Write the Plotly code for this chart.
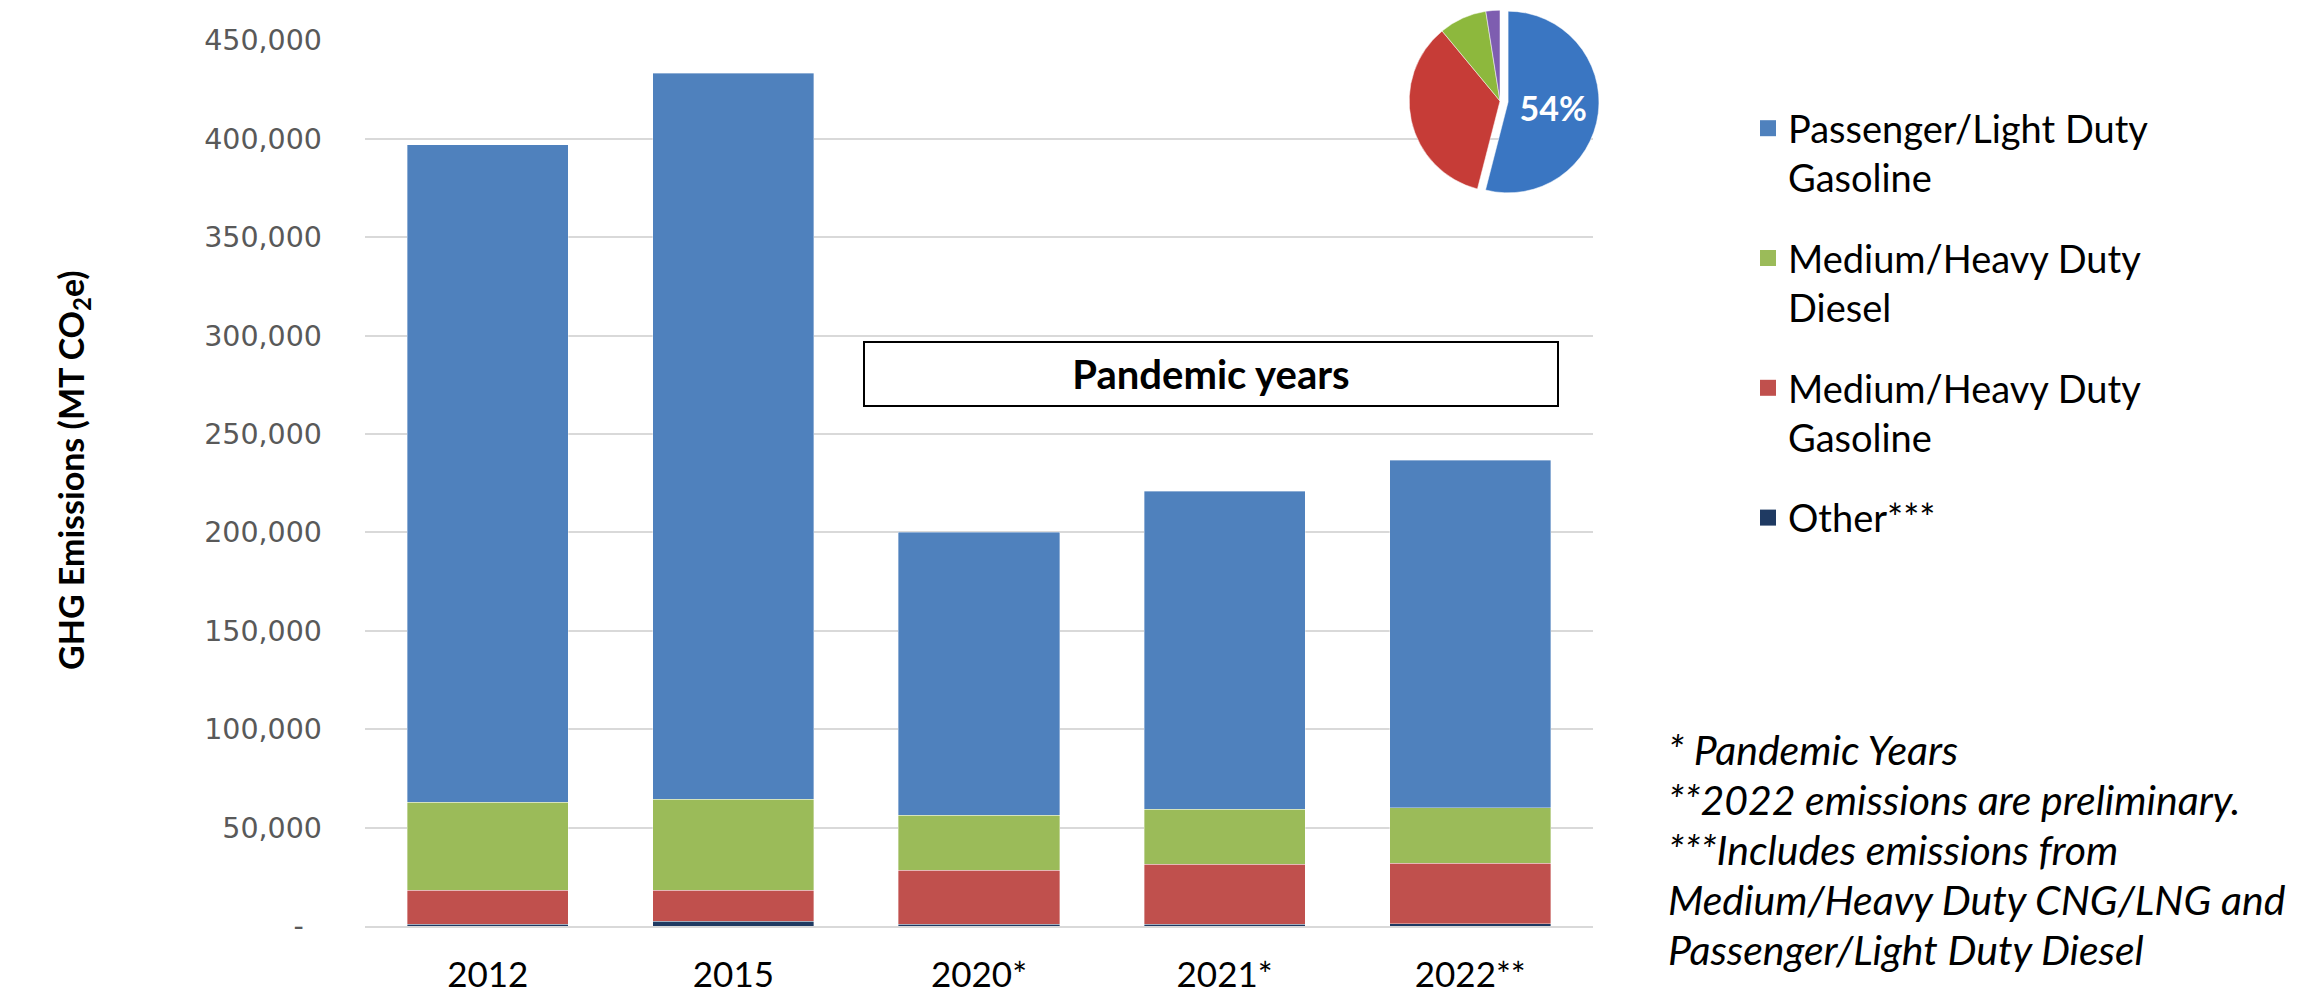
import plotly.graph_objects as go

# ---------------- data ----------------
years = ["2012", "2015", "2020*", "2021*", "2022**"]
other = [900, 2300, 800, 800, 1100]
mh_gasoline = [17300, 15800, 27600, 30600, 30800]
mh_diesel = [44800, 46400, 27900, 27900, 28100]
passenger = [334000, 368800, 143700, 161600, 176600]

series_names = ["Other***", "Medium/Heavy Duty<br>Gasoline",
                "Medium/Heavy Duty<br>Diesel", "Passenger/Light Duty<br>Gasoline"]
series_values = [other, mh_gasoline, mh_diesel, passenger]
series_colors = ["#1F3A62", "#C0504D", "#9BBB59", "#4F81BD"]
legend_ranks = [4, 3, 2, 1]

y_ticks = [0, 50000, 100000, 150000, 200000, 250000, 300000, 350000, 400000, 450000]
y_ticktext = ["-\u2007"] + [f"{v:,}" for v in y_ticks[1:]]

pie_labels = ["Passenger/Light Duty Gasoline", "Medium/Heavy Duty Gasoline",
              "Medium/Heavy Duty Diesel", "Other"]
pie_values = [54, 35, 8.5, 2.5]
pie_text = ["54%", "", "", ""]
pie_colors = ["#3A76C2", "#C63C37", "#8DB83D", "#7E5DB0"]

footnote_lines = ["* Pandemic Years",
                  "**2022 emissions are preliminary.",
                  "***Includes emissions from",
                  "Medium/Heavy Duty CNG/LNG and",
                  "Passenger/Light Duty Diesel"]

W, H = 2306, 999
ML, MB = 365, 73
PW, PH = W - ML, H - MB
plot_right = 1593
plot_top = 40.5


def px_x(x):
    return (x - ML) / PW


def px_y(y):
    return (PH - y) / PH


fig = go.Figure()
for name, vals, col in zip(series_names, series_values, series_colors):
    fig.add_trace(go.Bar(
        x=years, y=vals, name=name.replace("<br>", " "), showlegend=False,
        marker=dict(color=col, line=dict(color="rgba(255,255,255,0.45)", width=0.8)),
    ))
# legend entries (square keys)
for name, col, rk in zip(series_names, series_colors, legend_ranks):
    fig.add_trace(go.Scatter(
        x=[None], y=[None], mode="markers", name=name, legendgroup=name,
        legendrank=rk,
        marker=dict(symbol="square", size=24, color=col),
    ))

fig.add_trace(go.Pie(
    labels=pie_labels, values=pie_values, text=pie_text, textinfo="text",
    textposition="inside", insidetextorientation="horizontal",
    textfont=dict(family="Lato", size=34, color="white", weight="bold"),
    marker=dict(colors=pie_colors, line=dict(color="white", width=0.5)),
    pull=[0.09, 0, 0, 0], sort=False, direction="clockwise", rotation=0,
    showlegend=False, hoverinfo="label+percent",
    domain=dict(x=[px_x(1395), px_x(1605)], y=[px_y(200), px_y(2)]),
))

annotations = [
    dict(text="<b>Pandemic years</b>", xref="paper", yref="paper",
         x=px_x(1211), y=px_y(374), xanchor="center", yanchor="middle",
         showarrow=False, font=dict(family="Lato", size=40, color="black"),
         bordercolor="black", borderwidth=2, bgcolor="white",
         width=690, height=60),
    dict(text="<b>GHG Emissions (MT CO<sub>2</sub>e)</b>", xref="paper", yref="paper",
         x=px_x(73), y=px_y(470), xanchor="center", yanchor="middle",
         textangle=-90, showarrow=False,
         font=dict(family="Lato", size=34, color="black")),
]
for i, line in enumerate(footnote_lines):
    annotations.append(dict(
        text=f"<i>{line}</i>", xref="paper", yref="paper",
        x=px_x(1666), y=px_y(749 + 50 * i), xanchor="left", yanchor="middle",
        align="left", showarrow=False,
        font=dict(family="Lato", size=41, color="black")))

fig.update_layout(
    width=W, height=H, autosize=False,
    margin=dict(l=ML, r=0, t=0, b=MB, pad=0),
    paper_bgcolor="white", plot_bgcolor="white",
    barmode="stack", bargap=0.344,
    font=dict(family="Lato", color="black"),
    xaxis=dict(
        domain=[0, px_x(plot_right)], automargin=False,
        tickfont=dict(family="Lato", size=35, color="black"),
        showline=True, linecolor="#D9D9D9", linewidth=2,
        ticks="", ticklabelstandoff=17,
    ),
    yaxis=dict(
        domain=[0, px_y(plot_top)], automargin=False,
        range=[0, 450000], tickvals=y_ticks, ticktext=y_ticktext,
        tickfont=dict(family="DejaVu Sans", size=28.5, color="#595959"),
        showgrid=True, gridcolor="#D9D9D9", gridwidth=2,
        zeroline=False, ticks="", ticklabelstandoff=42,
    ),
    legend=dict(
        x=px_x(1748), y=px_y(97), xanchor="left", yanchor="top",
        font=dict(family="Lato", size=38, color="black"),
        traceorder="grouped", tracegroupgap=28, valign="top",
        itemsizing="trace", bgcolor="rgba(0,0,0,0)",
    ),
    annotations=annotations,
)

fig.write_html("out.html", config={"displayModeBar": False},
               post_script="document.body.style.margin='0';")
